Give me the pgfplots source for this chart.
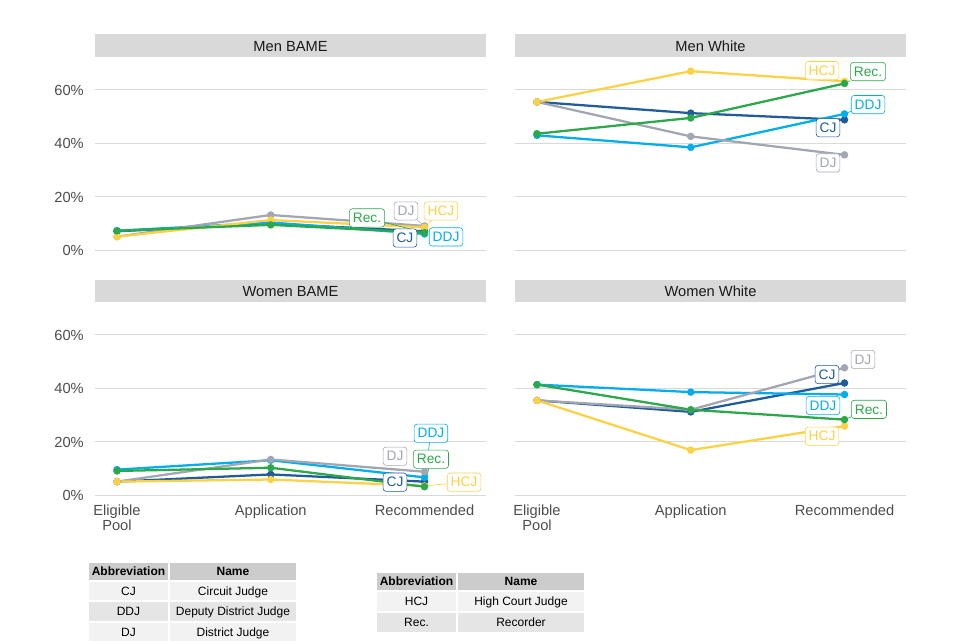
\documentclass[border=0pt]{standalone}
\usepackage{pgfplots}
\pgfplotsset{compat=1.18}
\usepackage{fontspec}
\setmainfont{Liberation Sans}

\definecolor{cCJ}{HTML}{1F5C99}
\definecolor{cDDJ}{HTML}{00AEEF}
\definecolor{cDJ}{HTML}{A2A6B2}
\definecolor{cHCJ}{HTML}{FDD144}
\definecolor{cRec}{HTML}{2BA84A}
\definecolor{gridc}{HTML}{D9D9D9}
\definecolor{tickc}{HTML}{4D4D4D}
\definecolor{stripc}{HTML}{D9D9D9}
\definecolor{hdr}{HTML}{CCCCCC}
\definecolor{rowa}{HTML}{F2F2F2}
\definecolor{rowb}{HTML}{E5E5E5}

\pgfplotsset{
  panel/.style={
    anchor=north west, scale only axis,
    width=293.25pt, height=146.25pt,
    xmin=0.857, xmax=3.4, ymin=-0.75, ymax=72.2,
    axis line style={draw=none}, major tick length=0pt,
    xtick={1,2,3}, ytick={0,20,40,60},
    xticklabels={}, yticklabels={},
    ymajorgrids, grid style={color=gridc, line width=0.75pt},
    tick label style={font=\fontsize{11}{10.7}\selectfont, text=tickc},
    yticklabel style={anchor=east, inner sep=0pt, xshift=-8.25pt, yshift=-0.5pt},
    xticklabel style={anchor=north, inner sep=0pt, yshift=-6pt, align=center},
    clip=false,
  },
  ylab/.style={yticklabels={0\%,20\%,40\%,60\%}},
  xlab/.style={xticklabels={Eligible\\Pool,Application,Recommended}},
  ser/.style={color=#1, line width=1.7pt, mark=*, mark size=1.9pt, mark options={solid}},
}
\tikzset{
  lab/.style={draw=#1, text=#1, fill=white, rounded corners=2.2pt, line width=0.45pt,
    font=\fontsize{10.3}{12}\selectfont, inner xsep=2.6pt, inner ysep=2.8pt,
    text height=7.6pt, text depth=0.5pt},
  seg/.style={draw=#1, line width=0.45pt},
}

\newcommand{\cell}[7]{%
  \filldraw[fill=#5, draw=white, line width=1.2pt] (#1,#2) rectangle (#3,#4);
  \node[font=#6, anchor=base, inner sep=0pt] at ({(#1+#3)/2},{(#2+#4)/2+4.3}) {#7};}

\begin{document}
\begin{tikzpicture}
\begin{scope}[x=0.75pt,y=-0.75pt]
  \path[use as bounding box] (0,0) rectangle (960,640);
  % strips
  \fill[stripc] (95,34) rectangle (486,57);
  \fill[stripc] (515,34) rectangle (906,57);
  \fill[stripc] (95,280) rectangle (486,302);
  \fill[stripc] (515,280) rectangle (906,302);
  \node[anchor=base, inner sep=0pt, font=\fontsize{11}{13}\selectfont, text=black!90] at (290.5,51) {Men BAME};
  \node[anchor=base, inner sep=0pt, font=\fontsize{11}{13}\selectfont, text=black!90] at (710.5,51) {Men White};
  \node[anchor=base, inner sep=0pt, font=\fontsize{11}{13}\selectfont, text=black!90] at (290.5,296.5) {Women BAME};
  \node[anchor=base, inner sep=0pt, font=\fontsize{11}{13}\selectfont, text=black!90] at (710.5,296.5) {Women White};
  % tables
  \cell{88}{562}{169}{581}{hdr}{\fontsize{9}{10}\selectfont\bfseries}{Abbreviation}
  \cell{169}{562}{297}{581}{hdr}{\fontsize{9}{10}\selectfont\bfseries}{Name}
  \cell{88}{581}{169}{601}{rowa}{\fontsize{9}{10}\selectfont}{CJ}
  \cell{169}{581}{297}{601}{rowa}{\fontsize{9}{10}\selectfont}{Circuit Judge}
  \cell{88}{601}{169}{622}{rowb}{\fontsize{9}{10}\selectfont}{DDJ}
  \cell{169}{601}{297}{622}{rowb}{\fontsize{9}{10}\selectfont}{Deputy District Judge}
  \cell{88}{622}{169}{643}{rowa}{\fontsize{9}{10}\selectfont}{DJ}
  \cell{169}{622}{297}{643}{rowa}{\fontsize{9}{10}\selectfont}{District Judge}
  \cell{376}{572}{457}{591}{hdr}{\fontsize{9}{10}\selectfont\bfseries}{Abbreviation}
  \cell{457}{572}{585}{591}{hdr}{\fontsize{9}{10}\selectfont\bfseries}{Name}
  \cell{376}{591}{457}{612}{rowa}{\fontsize{9}{10}\selectfont}{HCJ}
  \cell{457}{591}{585}{612}{rowa}{\fontsize{9}{10}\selectfont}{High Court Judge}
  \cell{376}{612}{457}{633}{rowb}{\fontsize{9}{10}\selectfont}{Rec.}
  \cell{457}{612}{585}{633}{rowb}{\fontsize{9}{10}\selectfont}{Recorder}
\end{scope}

% Men BAME
\begin{axis}[panel, ylab, at={({95*0.75pt},{-57*0.75pt})}]
\addplot[ser=cCJ] coordinates {(1,7.0)(2,9.8)(3,7.0)};
\addplot[ser=cDDJ] coordinates {(1,7.2)(2,10.3)(3,6.0)};
\addplot[ser=cDJ] coordinates {(1,5.0)(2,13.1)(3,9.0)};
\addplot[ser=cHCJ] coordinates {(1,5.0)(2,11.2)(3,8.5)};
\addplot[ser=cRec] coordinates {(1,7.2)(2,9.4)(3,6.5)};
\node[lab=cRec] (a1) at (axis cs:2.626,12.0) {Rec.};
\draw[seg=cRec] (a1) -- (axis cs:3,6.5);
\node[lab=cDJ] (a2) at (axis cs:2.880,14.6) {DJ};
\draw[seg=cDJ] (a2) -- (axis cs:3,9.0);
\node[lab=cHCJ] (a3) at (axis cs:3.107,14.6) {HCJ};
\draw[seg=cHCJ] (a3) -- (axis cs:3,8.5);
\node[lab=cCJ] at (axis cs:2.873,4.5) {CJ};
\node[lab=cDDJ] at (axis cs:3.140,4.9) {DDJ};
\end{axis}

% Men White
\begin{axis}[panel, at={({515*0.75pt},{-57*0.75pt})}]
\addplot[ser=cCJ] coordinates {(1,55.4)(2,51.2)(3,48.7)};
\addplot[ser=cDDJ] coordinates {(1,42.9)(2,38.4)(3,50.9)};
\addplot[ser=cDJ] coordinates {(1,55.4)(2,42.5)(3,35.6)};
\addplot[ser=cHCJ] coordinates {(1,55.4)(2,66.9)(3,63.1)};
\addplot[ser=cRec] coordinates {(1,43.5)(2,49.4)(3,62.3)};
\node[lab=cHCJ] at (axis cs:2.854,67.1) {HCJ};
\node[lab=cRec] (b1) at (axis cs:3.153,66.75) {Rec.};
\draw[seg=cRec] (b1) -- (axis cs:3,62.3);
\node[lab=cDDJ] (b2) at (axis cs:3.153,54.4) {DDJ};
\draw[seg=cDDJ] (b2) -- (axis cs:3,50.9);
\node[lab=cCJ] at (axis cs:2.893,45.75) {CJ};
\node[lab=cDJ] at (axis cs:2.893,32.6) {DJ};
\end{axis}

% Women BAME
\begin{axis}[panel, ylab, xlab, at={({95*0.75pt},{-302*0.75pt})}]
\addplot[ser=cCJ] coordinates {(1,5.0)(2,7.7)(3,5.0)};
\addplot[ser=cDDJ] coordinates {(1,9.5)(2,13.0)(3,6.6)};
\addplot[ser=cDJ] coordinates {(1,5.0)(2,13.3)(3,8.7)};
\addplot[ser=cHCJ] coordinates {(1,5.0)(2,5.8)(3,3.4)};
\addplot[ser=cRec] coordinates {(1,9.0)(2,10.2)(3,3.1)};
\node[lab=cDDJ] (c1) at (axis cs:3.042,23.1) {DDJ};
\draw[seg=cDDJ] (c1) -- (axis cs:3,6.6);
\node[lab=cDJ] at (axis cs:2.808,14.5) {DJ};
\node[lab=cRec] (c2) at (axis cs:3.042,13.4) {Rec.};
\draw[seg=cRec] (c2) -- (axis cs:3,3.1);
\node[lab=cCJ] at (axis cs:2.808,4.8) {CJ};
\node[lab=cHCJ] (c3) at (axis cs:3.257,4.8) {HCJ};
\draw[seg=cHCJ] (c3) -- (axis cs:3,3.4);
\end{axis}

% Women White
\begin{axis}[panel, xlab, at={({515*0.75pt},{-302*0.75pt})}]
\addplot[ser=cCJ] coordinates {(1,35.4)(2,31.1)(3,41.9)};
\addplot[ser=cDDJ] coordinates {(1,41.3)(2,38.5)(3,37.6)};
\addplot[ser=cDJ] coordinates {(1,35.4)(2,31.9)(3,47.6)};
\addplot[ser=cHCJ] coordinates {(1,35.4)(2,16.8)(3,25.8)};
\addplot[ser=cRec] coordinates {(1,41.3)(2,31.9)(3,28.2)};
\node[lab=cDJ] at (axis cs:3.120,50.7) {DJ};
\node[lab=cCJ] at (axis cs:2.886,45.1) {CJ};
\node[lab=cDDJ] at (axis cs:2.860,33.5) {DDJ};
\node[lab=cRec] (d1) at (axis cs:3.159,32.05) {Rec.};
\draw[seg=cRec] (d1) -- (axis cs:3,28.2);
\node[lab=cHCJ] at (axis cs:2.854,22.0) {HCJ};
\end{axis}
\end{tikzpicture}
\end{document}
